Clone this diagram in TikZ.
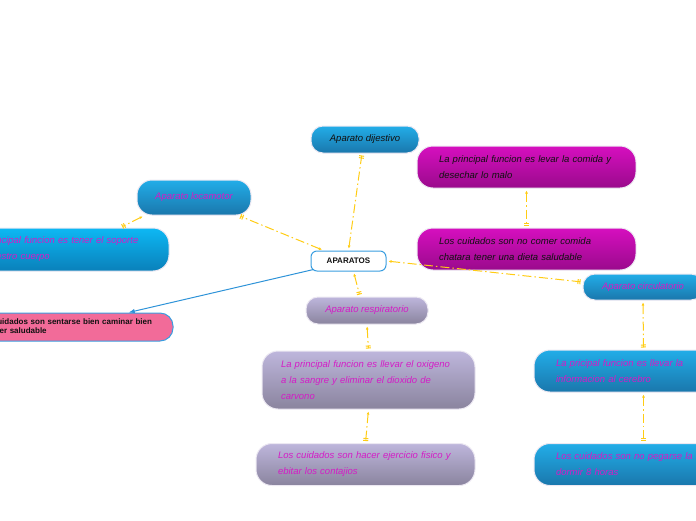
\documentclass[tikz,border=0pt]{standalone}
\usepackage{fontspec}
\setmainfont{Liberation Sans}
\usetikzlibrary{arrows.meta}
\definecolor{ink}{HTML}{111111}
\definecolor{halo}{HTML}{ECE8F2}
\definecolor{rootline}{HTML}{3A9EE0}
\definecolor{bluetop}{HTML}{22ADE8}
\definecolor{bluebot}{HTML}{1A77AC}
\definecolor{cyantop}{HTML}{0DB8F4}
\definecolor{cyanbot}{HTML}{0A80BA}
\definecolor{magtop}{HTML}{D60FBF}
\definecolor{magbot}{HTML}{9A0A8C}
\definecolor{lavtop}{HTML}{BEB6DC}
\definecolor{lavbot}{HTML}{8A849E}
\definecolor{pinkfill}{HTML}{F26B99}
\definecolor{magtext}{HTML}{D41CC6}
\definecolor{linkyellow}{HTML}{FFCC14}
\definecolor{mainline}{HTML}{2E93D8}

\begin{document}
\begin{tikzpicture}[
  x=1pt,
  y=-1pt,
  >={Latex[length=2.2mm,width=1.6mm]},
  root/.style={draw=rootline, fill=white, line width=1pt, rounded corners=6pt,
               minimum width=75pt, minimum height=20pt, inner sep=0pt,
               font=\bfseries\fontsize{8}{9}\selectfont, text=ink},
  topic/.style={draw=halo, line width=1pt, rounded corners=12pt, inner sep=0pt,
                minimum height=27pt, font=\itshape\fontsize{9.5}{11}\selectfont},
  note/.style={draw=halo, line width=1pt, rounded corners=16pt, inner xsep=22pt,
               inner ysep=0pt, align=left, text width=175pt, minimum height=42pt,
               font=\itshape\fontsize{9.5}{16}\selectfont},
  bluebox/.style={top color=bluetop, bottom color=bluebot},
  cyanbox/.style={top color=cyantop, bottom color=cyanbot},
  magbox/.style={top color=magtop, bottom color=magbot},
  lavbox/.style={top color=lavtop, bottom color=lavbot},
  link/.style={draw=linkyellow, line width=1pt, shorten <=2pt, shorten >=2pt,
               dash pattern=on 9pt off 3pt on 1.5pt off 3pt,
               {Latex[length=3pt,width=3pt]}-{Bar[width=5pt,sep=1pt]Bar[width=5pt]}},
  plain/.style={->, draw=mainline, line width=1pt},
]

\useasboundingbox (0,0) rectangle (696,520);
\clip (0,0) rectangle (696,520);

\node[root] (aparatos) at (348.5,261) {APARATOS};

% Digestivo column
\node[topic, bluebox, minimum width=108pt, text=ink] (dijestivo) at (365,139.5) {Aparato dijestivo};
\node[note, magbox, text=ink] (dijfun) at (526.5,167) {La principal funcion es levar la comida y\\desechar lo malo};
\node[note, magbox, text=ink] (dijcui) at (526.5,249) {Los cuidados son no comer comida\\chatara tener una dieta saludable};

% Circulatorio column
\node[topic, bluebox, minimum width=120pt, minimum height=26pt, text=magtext] (circulatorio) at (643,287) {Aparato circulatorio};
\node[note, bluebox, text=magtext] (cirfun) at (643.5,371) {La pricipal funcion es llevar la\\informacion al cerebro};
\node[note, bluebox, text=magtext] (circui) at (643.5,464.5) {\mbox{Los cuidados son no pegarse la cabeza y}\\dormir 8 horas};

% Respiratorio column
\node[topic, lavbox, minimum width=122pt, text=magtext] (respiratorio) at (367,310.5) {Aparato respiratorio};
\node[note, lavbox, text=magtext, inner xsep=19pt, minimum height=58pt] (resfun) at (368.5,380) {La principal funcion es llevar el oxigeno\\a la sangre y eliminar el dioxido de\\carvono};
\node[note, lavbox, text=magtext] (rescui) at (365.5,464.5) {Los cuidados son hacer ejercicio fisico y\\ebitar los contajios};

% Locomotor branch
\node[topic, bluebox, minimum width=114pt, minimum height=35pt, rounded corners=15pt, text=magtext] (locomotor) at (194,197.5) {Aparato locamotor};
\node[note, cyanbox, text=magtext, minimum height=43pt] (locfun) at (59.5,249.5) {La principal funcion es tener el soporte\\de nuestro cuerpo};
\node[note, draw=rootline, fill=pinkfill, text=ink, minimum height=28pt, rounded corners=13pt,
      inner xsep=21pt, text width=176pt, font=\bfseries\fontsize{8}{9.5}\selectfont] (loccui) at (64,327)
      {\mbox{Los cuidados son sentarse bien caminar bien}\\y comer saludable};

\draw[link] (aparatos.north) -- ([xshift=-3pt]dijestivo.south);
\draw[link] (dijfun.south) -- (dijcui.north);
\draw[link] (aparatos.east) -- ([yshift=5pt]circulatorio.west);
\draw[link] (circulatorio.south) -- (cirfun.north);
\draw[link] (cirfun.south) -- (circui.north);
\draw[link] ([xshift=5pt]aparatos.south) -- ([xshift=-7pt]respiratorio.north);
\draw[link] (respiratorio.south) -- (resfun.north);
\draw[link] (resfun.south) -- (rescui.north);
\draw[link] (aparatos.157) -- (locomotor.-22);
\draw[link] ([xshift=8pt]locomotor.south west) -- ([xshift=-49pt]locfun.north east);
\draw[plain] ([xshift=3pt,yshift=2pt]aparatos.south west) -- ([xshift=-45pt]loccui.north east);

\end{tikzpicture}
\end{document}
